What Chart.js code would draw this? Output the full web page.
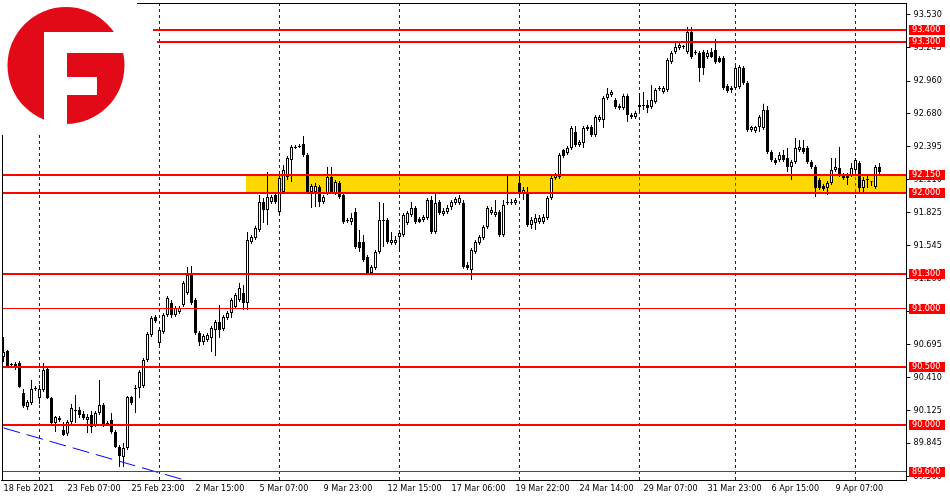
<!DOCTYPE html>
<html>
<head>
<meta charset="utf-8">
<script src="https://cdn.jsdelivr.net/npm/chart.js@4.4.0/dist/chart.umd.min.js"></script>
<style>
  html, body { margin: 0; padding: 0; background: #fff; }
  #wrap { width: 950px; height: 500px; }
</style>
</head>
<body>
<div id="wrap"><canvas id="dxyChart" width="950" height="500"></canvas></div>
<script>
// H4 candles, 18 Feb 2021 .. 13 Apr 2021
const opens = [
  90.586, 90.637, 90.517, 90.526, 90.534, 90.276, 90.156, 90.190, 90.311, 90.233,
  90.302, 90.483, 90.233, 90.018, 90.061, 89.958, 89.924, 90.027, 90.130, 90.130,
  90.096, 90.044, 90.087, 90.001, 90.104, 90.173, 90.018, 90.044, 89.941, 89.812,
  89.725, 89.803, 90.242, 90.311, 90.319, 90.336, 90.560, 90.775, 90.930, 90.706,
  90.801, 90.947, 91.050, 90.947, 90.973, 91.033, 91.136, 91.292, 91.076, 90.792,
  90.715, 90.732, 90.749, 90.818, 90.887, 90.827, 90.921, 90.964, 91.016, 91.076,
  91.136, 91.050, 91.576, 91.610, 91.679, 91.920, 91.851, 91.920, 91.980, 91.834,
  92.006, 92.135, 92.281, 92.393, 92.401, 92.419, 92.324, 92.006, 92.006, 92.049,
  91.920, 91.997, 92.135, 91.997, 92.083, 91.980, 91.765, 91.748, 91.834, 91.576,
  91.576, 91.447, 91.309, 91.352, 91.490, 91.765, 91.765, 91.567, 91.567, 91.619,
  91.636, 91.739, 91.808, 91.868, 91.774, 91.765, 91.782, 91.937, 91.662, 91.920,
  91.817, 91.834, 91.877, 91.911, 91.911, 91.911, 91.378, 91.335, 91.490, 91.567,
  91.610, 91.705, 91.825, 91.808, 91.834, 91.636, 91.911, 91.911, 91.911, 92.083,
  91.997, 92.006, 91.722, 91.739, 91.748, 91.748, 91.782, 91.954, 92.126, 92.135,
  92.367, 92.341, 92.384, 92.522, 92.410, 92.427, 92.547, 92.565, 92.496, 92.625,
  92.625, 92.815, 92.841, 92.798, 92.746, 92.729, 92.832, 92.668, 92.651, 92.755,
  92.755, 92.755, 92.737, 92.781, 92.892, 92.867, 92.884, 93.125, 93.211, 93.245,
  93.254, 93.211, 93.383, 93.211, 93.202, 93.211, 93.168, 93.211, 93.228, 93.159,
  93.159, 92.918, 92.901, 92.901, 92.910, 93.073, 92.944, 92.539, 92.530, 92.565,
  92.556, 92.712, 92.350, 92.281, 92.281, 92.324, 92.298, 92.221, 92.264, 92.367,
  92.384, 92.384, 92.264, 92.221, 92.109, 92.057, 92.040, 92.083, 92.195, 92.212,
  92.152, 92.143, 92.152, 92.195, 92.255, 92.040, 92.118, 92.092, 92.049, 92.221
];
const highs = [
  90.758, 90.646, 90.534, 90.543, 90.551, 90.311, 90.216, 90.388, 90.336, 90.345,
  90.534, 90.500, 90.242, 90.078, 90.078, 90.027, 90.044, 90.182, 90.259, 90.156,
  90.121, 90.096, 90.121, 90.121, 90.388, 90.190, 90.035, 90.104, 89.958, 89.829,
  89.846, 90.250, 90.250, 90.345, 90.474, 90.577, 90.801, 90.938, 90.947, 90.844,
  90.964, 91.110, 91.076, 91.024, 91.024, 91.240, 91.361, 91.369, 91.093, 90.809,
  90.784, 90.792, 90.852, 90.904, 91.033, 90.947, 90.981, 91.093, 91.136, 91.223,
  91.206, 91.662, 91.636, 91.714, 91.980, 91.954, 92.178, 91.980, 91.997, 92.143,
  92.238, 92.315, 92.410, 92.410, 92.419, 92.487, 92.341, 92.075, 92.083, 92.066,
  91.980, 92.221, 92.221, 92.109, 92.100, 91.997, 91.782, 91.825, 91.868, 91.679,
  91.636, 91.464, 91.378, 91.507, 91.920, 91.911, 91.782, 91.662, 91.627, 91.679,
  91.825, 91.842, 91.920, 91.885, 91.791, 91.808, 91.954, 91.971, 91.997, 91.937,
  91.868, 91.894, 91.937, 91.963, 91.980, 91.937, 91.404, 91.524, 91.593, 91.636,
  91.722, 91.885, 91.877, 91.937, 91.851, 91.937, 92.152, 91.946, 91.954, 92.152,
  92.049, 92.049, 91.791, 91.817, 91.808, 91.817, 91.971, 92.152, 92.169, 92.341,
  92.376, 92.401, 92.574, 92.574, 92.453, 92.574, 92.582, 92.582, 92.668, 92.668,
  92.832, 92.901, 92.884, 92.815, 92.764, 92.850, 92.850, 92.686, 92.703, 92.858,
  92.867, 92.798, 92.927, 92.901, 92.918, 92.918, 93.159, 93.219, 93.288, 93.288,
  93.271, 93.426, 93.426, 93.228, 93.219, 93.228, 93.228, 93.245, 93.323, 93.176,
  93.176, 92.935, 92.918, 93.090, 93.099, 93.090, 92.961, 92.574, 92.574, 92.668,
  92.764, 92.746, 92.367, 92.298, 92.350, 92.367, 92.384, 92.281, 92.470, 92.453,
  92.453, 92.401, 92.281, 92.238, 92.126, 92.075, 92.100, 92.298, 92.298, 92.393,
  92.169, 92.169, 92.255, 92.298, 92.272, 92.135, 92.143, 92.100, 92.238, 92.255
];
const lows = [
  90.543, 90.491, 90.491, 90.474, 90.319, 90.147, 90.130, 90.173, 90.293, 90.182,
  90.285, 90.225, 90.001, 89.941, 90.027, 89.906, 89.906, 90.010, 90.018, 90.061,
  90.044, 89.932, 89.932, 89.984, 90.087, 89.984, 89.992, 89.924, 89.803, 89.639,
  89.639, 89.785, 90.173, 90.104, 90.233, 90.319, 90.543, 90.758, 90.878, 90.681,
  90.784, 90.930, 90.921, 90.930, 90.956, 91.016, 91.119, 91.033, 90.775, 90.681,
  90.689, 90.715, 90.629, 90.594, 90.749, 90.809, 90.904, 90.921, 90.999, 91.059,
  90.990, 90.990, 91.559, 91.593, 91.662, 91.739, 91.722, 91.903, 91.903, 91.808,
  91.989, 92.109, 92.092, 92.376, 92.384, 92.307, 91.989, 91.868, 91.877, 91.877,
  91.903, 91.980, 91.989, 91.980, 91.946, 91.731, 91.739, 91.722, 91.516, 91.490,
  91.404, 91.292, 91.292, 91.335, 91.473, 91.533, 91.559, 91.550, 91.550, 91.490,
  91.619, 91.722, 91.791, 91.731, 91.739, 91.748, 91.765, 91.645, 91.645, 91.808,
  91.799, 91.817, 91.851, 91.894, 91.894, 91.344, 91.335, 91.249, 91.473, 91.550,
  91.593, 91.688, 91.808, 91.791, 91.619, 91.619, 91.894, 91.894, 91.894, 91.980,
  91.937, 91.705, 91.688, 91.679, 91.731, 91.731, 91.765, 91.937, 92.109, 92.118,
  92.298, 92.324, 92.367, 92.393, 92.393, 92.384, 92.530, 92.479, 92.479, 92.608,
  92.556, 92.798, 92.824, 92.720, 92.712, 92.712, 92.608, 92.634, 92.634, 92.694,
  92.712, 92.686, 92.720, 92.764, 92.875, 92.850, 92.867, 93.108, 93.193, 93.228,
  93.237, 93.193, 93.150, 93.185, 92.953, 93.013, 93.150, 93.159, 93.108, 93.116,
  92.884, 92.858, 92.858, 92.884, 92.892, 92.927, 92.522, 92.522, 92.513, 92.522,
  92.539, 92.333, 92.264, 92.238, 92.264, 92.264, 92.178, 92.109, 92.247, 92.350,
  92.333, 92.247, 92.204, 91.963, 92.023, 92.014, 91.980, 92.066, 92.178, 92.135,
  92.109, 92.066, 92.135, 92.178, 91.997, 91.997, 92.040, 92.057, 92.032, 92.161
];
const closes = [
  90.629, 90.500, 90.526, 90.491, 90.328, 90.164, 90.199, 90.311, 90.319, 90.311,
  90.474, 90.233, 90.018, 90.070, 90.044, 89.915, 90.027, 90.147, 90.121, 90.087,
  90.061, 90.070, 89.984, 90.104, 90.173, 90.001, 90.010, 89.941, 89.812, 89.733,
  89.803, 90.242, 90.190, 90.319, 90.457, 90.560, 90.784, 90.921, 90.895, 90.818,
  90.947, 91.093, 90.947, 91.007, 91.007, 91.223, 91.292, 91.050, 90.792, 90.715,
  90.766, 90.775, 90.835, 90.887, 90.818, 90.930, 90.964, 91.076, 91.119, 91.180,
  91.050, 91.593, 91.619, 91.696, 91.920, 91.851, 91.963, 91.963, 91.920, 92.126,
  92.195, 92.298, 92.393, 92.384, 92.393, 92.324, 92.006, 92.057, 92.057, 91.920,
  91.963, 92.135, 92.006, 92.092, 91.963, 91.748, 91.756, 91.782, 91.533, 91.524,
  91.421, 91.309, 91.361, 91.490, 91.765, 91.756, 91.576, 91.593, 91.593, 91.653,
  91.808, 91.825, 91.868, 91.748, 91.748, 91.791, 91.937, 91.662, 91.911, 91.825,
  91.842, 91.868, 91.920, 91.946, 91.954, 91.361, 91.352, 91.507, 91.576, 91.619,
  91.705, 91.868, 91.851, 91.834, 91.636, 91.894, 91.920, 91.920, 91.937, 91.997,
  92.023, 91.722, 91.765, 91.782, 91.782, 91.791, 91.954, 92.126, 92.152, 92.324,
  92.315, 92.384, 92.556, 92.410, 92.436, 92.556, 92.565, 92.496, 92.651, 92.651,
  92.815, 92.850, 92.867, 92.737, 92.729, 92.832, 92.668, 92.651, 92.686, 92.737,
  92.746, 92.729, 92.798, 92.884, 92.901, 92.901, 93.142, 93.202, 93.254, 93.271,
  93.262, 93.383, 93.168, 93.202, 93.073, 93.073, 93.202, 93.168, 93.125, 93.125,
  92.901, 92.875, 92.884, 93.073, 93.082, 92.944, 92.539, 92.565, 92.565, 92.651,
  92.712, 92.350, 92.281, 92.255, 92.324, 92.281, 92.221, 92.264, 92.384, 92.393,
  92.350, 92.264, 92.221, 92.040, 92.040, 92.032, 92.083, 92.195, 92.221, 92.152,
  92.126, 92.126, 92.212, 92.281, 92.040, 92.109, 92.109, 92.090, 92.221, 92.178
];

// bottom axis: bar index -> label
const timeTicks = [0, 16, 32, 48, 64, 80, 96, 112, 128, 144, 160, 176, 192, 208];
const timeLabels = ['18 Feb 2021', '23 Feb 07:00', '25 Feb 23:00', '2 Mar 15:00', '5 Mar 07:00',
  '9 Mar 23:00', '12 Mar 15:00', '17 Mar 06:00', '19 Mar 22:00', '24 Mar 14:00',
  '29 Mar 07:00', '31 Mar 23:00', '6 Apr 15:00', '9 Apr 07:00'];

// price scale ticks
const priceTicks = [93.530, 93.245, 92.960, 92.680, 92.395, 92.110, 91.825, 91.545,
  91.260, 90.975, 90.695, 90.410, 90.125, 89.845, 89.560];

// horizontal levels and where they start (bar index)
const levels = [93.4, 93.3, 92.15, 92.0, 91.3, 91.0, 90.5, 90.0, 89.6];
const levelFrom = [37.4, 38.4, -0.5, -0.5, -0.5, -0.5, -0.5, -0.5, -0.5];
const levelWidth = [2, 2, 2, 2, 2, 1, 2, 2, 1];

// support zone
const zone = [92.0, 92.15];
const zoneFrom = 60.6;

// weekly separators (first bar of each week)
const weekStarts = [9, 39, 69, 99, 129, 159, 183, 213];

// blue dashed trendline
const trendX = [0, 60];
const trendY = [89.975, 89.381];

const FONT = "'DejaVu Sans Condensed', 'Liberation Sans', sans-serif";
Chart.defaults.font.family = FONT;
Chart.defaults.font.size = 9;
Chart.defaults.color = '#000';

const drawings = {
    id: 'drawings',
    beforeDatasetsDraw(chart) {
        const { ctx, chartArea: a, scales: { x, y } } = chart;
        const right = Math.floor(a.right);
        ctx.save();
        // zone
        const zx = Math.round(x.getPixelForValue(zoneFrom));
        const zTop = Math.round(y.getPixelForValue(zone[1]));
        const zBot = Math.round(y.getPixelForValue(zone[0]));
        ctx.fillStyle = '#ffd700';
        ctx.fillRect(zx, zTop, right - zx, zBot - zTop);

        // separators
        ctx.lineWidth = 1;
        ctx.setLineDash([3, 3]);
        weekStarts.forEach(i => {
            const px = Math.floor(x.getPixelForValue(i)) + 0.5;
            ctx.strokeStyle = '#222';
            ctx.lineDashOffset = 0;
            ctx.beginPath();
            ctx.moveTo(px, a.top);
            ctx.lineTo(px, a.bottom);
            ctx.stroke();
            if (px > zx) {
                ctx.strokeStyle = '#2a50ff';
                ctx.lineDashOffset = zTop - a.top;
                ctx.beginPath();
                ctx.moveTo(px, zTop);
                ctx.lineTo(px, zBot);
                ctx.stroke();
            }
        });
        ctx.restore();
    },
    afterDatasetsDraw(chart) {
        const { ctx, chartArea: a, scales: { x, y } } = chart;
        const right = Math.floor(a.right);
        ctx.save();
        ctx.fillStyle = '#ff0000';
        levels.forEach((v, k) => {
            const py = y.getPixelForValue(v);
            const w = levelWidth[k];
            const x0 = Math.round(Math.max(a.left, x.getPixelForValue(levelFrom[k])));
            ctx.fillRect(x0, Math.round(py - w / 2), right - x0, w);
        });
        ctx.restore();
    },
    afterDraw(chart) {
        const { ctx, chartArea: a, scales: { y } } = chart;
        ctx.save();
        // price labels of the levels
        ctx.font = '9px ' + FONT;
        ctx.textBaseline = 'middle';
        ctx.textAlign = 'left';
        levels.forEach(v => {
            const py = Math.round(y.getPixelForValue(v));
            ctx.fillStyle = '#ff0000';
            ctx.fillRect(909, py - 5, 36, 10);
            ctx.fillStyle = '#fff';
            ctx.fillText(v.toFixed(3), 912, py);
        });

        // left and top frame
        ctx.fillStyle = '#000';
        ctx.fillRect(Math.floor(a.left) + 1, a.top, 1, a.bottom - a.top);
        ctx.fillRect(a.left, a.top, a.right - a.left, 1);

        // logo
        ctx.fillStyle = '#fff';
        ctx.fillRect(0, 0, 137, 135);
        ctx.fillStyle = '#e30a17';
        ctx.beginPath();
        ctx.arc(66, 65.5, 58.5, 0, Math.PI * 2);
        ctx.fill();
        ctx.fillStyle = '#fff';
        ctx.fillRect(44, 32, 23, 95);
        ctx.fillRect(44, 32, 90, 21);
        ctx.fillRect(67, 77, 30, 18);
        ctx.restore();
    }
};

const ctx = document.getElementById('dxyChart');

new Chart(ctx, {
    type: 'bar',
    data: {
        datasets: [
            {
                type: 'line',
                data: trendX.map((v, i) => ({ x: v, y: trendY[i] })),
                borderColor: '#0000ff',
                borderWidth: 1,
                borderDash: [17, 7],
                pointRadius: 0,
                order: 0
            },
            {
                // bodies
                data: opens.map((o, i) => ({ x: i, y: [Math.min(o, closes[i]), Math.max(o, closes[i])] })),
                backgroundColor: opens.map((o, i) => closes[i] >= o ? '#ffffff' : '#000000'),
                borderColor: '#000',
                borderWidth: 1,
                borderSkipped: false,
                barThickness: 3,
                minBarLength: 1,
                inflateAmount: 0,
                grouped: false,
                order: 1
            },
            {
                // wicks
                data: lows.map((l, i) => ({ x: i, y: [l, highs[i]] })),
                backgroundColor: '#000',
                borderWidth: 0,
                barThickness: 1,
                inflateAmount: 0,
                grouped: false,
                order: 2
            }
        ]
    },
    options: {
        responsive: false,
        animation: false,
        events: [],
        devicePixelRatio: 1,
        layout: { padding: { left: 1.5, top: 3, right: 0, bottom: 0 } },
        plugins: {
            legend: { display: false },
            tooltip: { enabled: false }
        },
        scales: {
            x: {
                type: 'linear',
                min: -0.5,
                max: 225.75,
                bounds: 'data',
                offset: false,
                grid: { drawOnChartArea: false, drawTicks: false },
                border: { color: '#000', width: 1 },
                afterBuildTicks: s => { s.ticks = timeTicks.map(v => ({ value: v })); },
                afterFit: s => {
                    s.height = 20;
                    s.paddingLeft = 0; s.paddingRight = 0; s.paddingTop = 0; s.paddingBottom = 0;
                },
                ticks: {
                    autoSkip: false,
                    maxRotation: 0,
                    minRotation: 0,
                    align: 'start',
                    padding: 3,
                    callback: (v, i) => timeLabels[i]
                }
            },
            y: {
                position: 'right',
                min: 89.527,
                max: 93.632,
                bounds: 'data',
                grid: { drawOnChartArea: false, drawTicks: true, tickLength: 4, color: '#000' },
                border: { color: '#000', width: 1 },
                afterBuildTicks: s => { s.ticks = priceTicks.map(v => ({ value: v })); },
                afterFit: s => {
                    s.width = 43.5;
                    s.paddingLeft = 0; s.paddingRight = 0; s.paddingTop = 0; s.paddingBottom = 0;
                },
                ticks: {
                    padding: 3,
                    callback: v => v.toFixed(3)
                }
            }
        }
    },
    plugins: [drawings]
});
</script>
</body>
</html>
